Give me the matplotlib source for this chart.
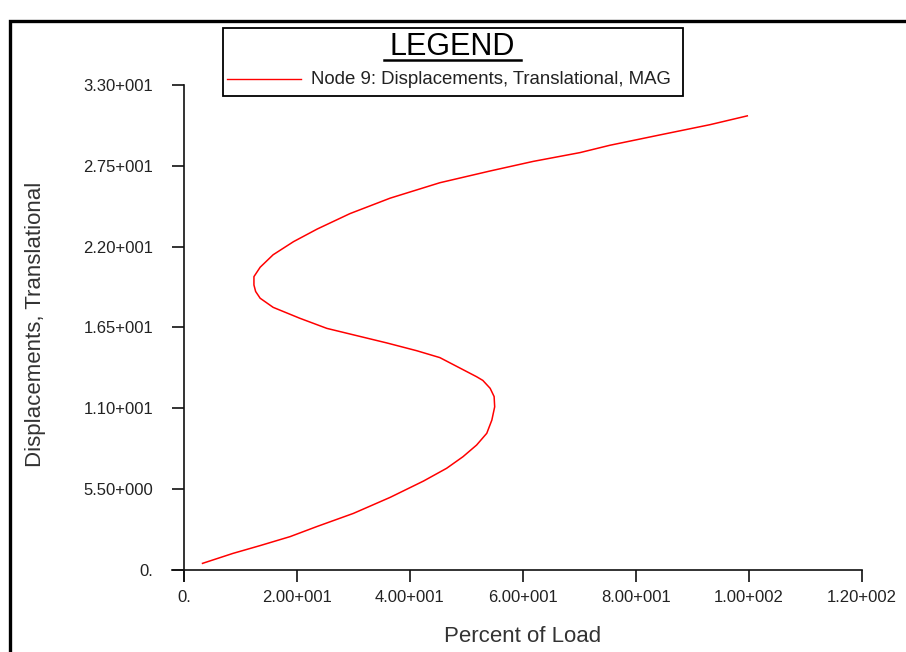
import matplotlib
matplotlib.use("Agg")
import matplotlib.pyplot as plt
from matplotlib.patches import Rectangle
from matplotlib.lines import Line2D

# ---- data ----
load_pct = [3.3, 8.7, 13.5, 18.8, 23.5, 30.0, 36.5, 42.4, 46.5, 49.4, 51.8, 53.6,
            54.5, 55.0, 54.9, 54.2, 52.9, 51.8, 45.3, 41.2, 35.9, 30.0, 25.3, 20.5,
            15.8, 13.5, 12.7, 12.4, 12.4, 13.5, 15.8, 19.4, 23.6, 29.4, 36.5, 45.3,
            54.2, 61.8, 70.1, 75.4, 84.2, 93.1, 99.7]
displacement = [0.45, 1.13, 1.66, 2.27, 2.95, 3.85, 4.94, 6.05, 6.92, 7.71, 8.5, 9.3,
                10.2, 11.1, 11.8, 12.36, 12.9, 13.15, 14.45, 14.92, 15.45, 16.0, 16.44,
                17.13, 17.87, 18.49, 18.95, 19.39, 19.96, 20.6, 21.45, 22.34, 23.2,
                24.25, 25.3, 26.35, 27.15, 27.8, 28.4, 28.9, 29.6, 30.3, 30.9]

x_ticks = [0, 20, 40, 60, 80, 100, 120]
x_tick_labels = ['0.', '2.00+001', '4.00+001', '6.00+001', '8.00+001', '1.00+002', '1.20+002']
y_ticks = [0, 5.5, 11, 16.5, 22, 27.5, 33]
y_tick_labels = ['0.', '5.50+000', '1.10+001', '1.65+001', '2.20+001', '2.75+001', '3.30+001']

series_label = 'Node 9: Displacements, Translational, MAG'
legend_title = 'LEGEND'
x_label = 'Percent of Load'
y_label = 'Displacements, Translational'

plt.rcParams['font.family'] = ['Liberation Sans', 'DejaVu Sans']

W, H = 906, 652
fig = plt.figure(figsize=(W / 100, H / 100), dpi=100)
fig.patch.set_facecolor('white')

# axes geometry (pixels)
left_px, right_px, top_px, bottom_px = 172, 862, 85, 581
ax = fig.add_axes([left_px / W, 1 - bottom_px / H,
                   (right_px - left_px) / W, (bottom_px - top_px) / H])
ax.set_xlim(-2.1, 120)
ax.set_ylim(-0.75, 33)

ax.plot(load_pct, displacement, color='#ff0000', lw=1.1, solid_joinstyle='round')

for s in ['top', 'right']:
    ax.spines[s].set_visible(False)
ax.spines['left'].set_position(('data', 0))
ax.spines['bottom'].set_position(('data', 0))
for s in ['left', 'bottom']:
    ax.spines[s].set_linewidth(1.2)
    ax.spines[s].set_color('#111111')

ax.set_xticks(x_ticks, x_tick_labels)
ax.set_yticks(y_ticks, y_tick_labels)
ax.tick_params(axis='both', direction='out', length=8.6, width=1.2, color='#111111',
               labelsize=12, labelcolor='#222222')
ax.tick_params(axis='y', pad=13.5)
ax.tick_params(axis='x', pad=6.0)

ax.set_xlabel(x_label, fontsize=16, color='#333333', va='center', ha='center')
ax.xaxis.set_label_coords((523 - left_px) / (right_px - left_px),
                          (bottom_px - 636) / (bottom_px - top_px))
ax.set_ylabel(y_label, fontsize=16, color='#333333', va='center', ha='center')
ax.yaxis.set_label_coords((36 - left_px) / (right_px - left_px),
                          (bottom_px - 324) / (bottom_px - top_px))

# outer frame (extends past the right and bottom of the image)
fig.patches.append(Rectangle((10 / W, -0.2), 1.5, 0.2 + (1 - 21 / H),
                             transform=fig.transFigure, fill=False,
                             edgecolor='black', lw=2.4, clip_on=False))

# legend box
lx0, lx1, ly0, ly1 = 223, 683, 28, 96
fig.patches.append(Rectangle((lx0 / W, 1 - ly1 / H), (lx1 - lx0) / W, (ly1 - ly0) / H,
                             transform=fig.transFigure, fill=True, facecolor='white',
                             edgecolor='black', lw=1.3))
fig.text(452 / W, 1 - 47 / H, legend_title, fontsize=22, ha='center', va='center',
         color='black')
fig.lines.append(Line2D([384 / W, 521 / W], [1 - 59.5 / H, 1 - 59.5 / H],
                        transform=fig.transFigure, color='black', lw=1.8))
fig.lines.append(Line2D([227 / W, 301 / W], [1 - 79 / H, 1 - 79 / H],
                        transform=fig.transFigure, color='#ff0000', lw=1.0))
fig.text(311 / W, 1 - 79 / H, series_label, fontsize=13.4, ha='left', va='center',
         color='#222222')

fig.savefig('out.png', dpi=100, facecolor='white')
